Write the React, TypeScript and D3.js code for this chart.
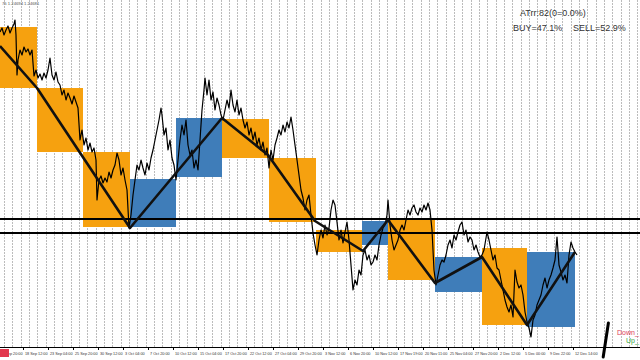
import React from "react";
import * as d3 from "d3";

const W = 640;
const H = 360;

// price (x10^4) sampled along H4 bars: [barIndex, price]
const priceSeries: [number, number][] = [
  [0,12909],[1,12917],[2,12903],[3,12913],[4,12921],[5,12907],[6,12917],[7,12925],[7.5,12933],[8,12903],[8.5,12823],[9,12853],
  [10,12873],[11,12863],[12,12879],[13,12869],[14,12875],[15,12863],[16,12873],[17,12821],[18,12833],[19,12817],[20,12825],
  [21,12813],[22,12827],[23,12817],[24,12833],[25,12857],[26,12823],[27,12813],[28,12829],[29,12809],[30,12803],[31,12783],
  [32,12793],[33,12773],[34,12787],[35,12777],[36,12765],[37,12781],[38,12769],[39,12757],[40,12693],[41,12713],[42,12683],
  [43,12697],[44,12673],[45,12687],[46,12669],[47,12677],[48,12653],[48.5,12573],[49.5,12613],[50.5,12621],[51.5,12607],
  [52.5,12617],[53.5,12609],[54.5,12629],[55.5,12617],[56.5,12633],[57.5,12643],[58.5,12667],[59.5,12653],[60.5,12623],
  [61.5,12637],[62.5,12613],[63.5,12593],[64.5,12517],[65.5,12543],[66.5,12583],[67.5,12613],[68.5,12643],[69.5,12633],
  [70.5,12653],[71.5,12637],[72.5,12623],[73.5,12647],[74.5,12633],[75.5,12657],[76.5,12673],[77.5,12693],[78.5,12713],
  [79.5,12733],[80.5,12757],[81,12743],[82,12703],[83,12717],[84,12673],[85,12693],[86,12657],[87,12643],[88,12613],
  [89,12653],[90,12693],[91,12723],[92,12703],[93,12733],[94,12683],[95,12663],[96,12673],[97,12637],[98,12653],[99,12633],
  [100,12693],[101,12753],[102,12793],[102.5,12817],[103.5,12783],[104.5,12813],[105.5,12773],[106.5,12789],[107.5,12753],
  [108.5,12777],[109.5,12763],[110.5,12743],[111.5,12733],[112.5,12753],[113.5,12773],[114.5,12757],[115.5,12793],
  [116.5,12763],[117.5,12749],[118.5,12773],[119.5,12743],[120.5,12757],[121.5,12733],[122.5,12717],[123.5,12729],
  [124.5,12703],[125.5,12717],[126.5,12693],[127.5,12709],[128.5,12683],[129.5,12697],[130.5,12673],[131.5,12689],
  [132.5,12663],[133.5,12677],[134.5,12637],[135.5,12673],[136.5,12653],[137.5,12683],[138.5,12697],[139.5,12713],
  [140.5,12703],[141.5,12723],[142.5,12709],[143.5,12729],[144.5,12717],[145.5,12739],[146.5,12713],[147.5,12683],
  [148.5,12653],[149.5,12623],[150.5,12593],[151.5,12577],[152.5,12553],[153.5,12573],[154.5,12583],[155.5,12543],
  [156.5,12507],[157.5,12483],[158.5,12463],[159.5,12493],[160.5,12513],[161.5,12497],[162.5,12523],[163.5,12503],
  [164.5,12517],[165.5,12553],[166.5,12573],[167.5,12563],[168.5,12529],[169.5,12493],[170.5,12513],[171.5,12487],
  [172.5,12509],[173.5,12529],[174.5,12493],[175.5,12443],[176.5,12393],[177.5,12413],[178.5,12403],[179.5,12433],
  [180.5,12423],[181.5,12463],[182.5,12473],[183.5,12453],[184.5,12463],[185.5,12443],[186.5,12449],[187.5,12463],
  [188.5,12453],[189.5,12483],[190.5,12503],[191.5,12517],[192.5,12523],[193.5,12543],[194,12573],[195,12523],[196,12493],
  [197,12473],[198,12483],[199,12493],[200,12513],[201,12523],[202,12513],[203,12533],[204,12553],[205,12543],[206,12557],
  [207,12563],[208,12549],[209,12543],[210,12557],[211,12549],[212,12563],[213,12553],[214,12567],[215,12553],[216,12513],
  [217,12433],[218,12403],[219,12423],[220,12443],[221,12453],[222,12449],[223,12463],[224,12483],[225,12493],[226,12477],
  [227,12503],[228,12493],[229,12509],[230,12523],[231,12529],[232,12503],[233,12513],[234,12489],[235,12499],[236,12493],
  [237,12473],[238,12483],[239,12469],[240,12459],[241,12463],[242,12473],[243,12497],[243.5,12509],[244.5,12493],
  [245.5,12473],[246.5,12453],[247.5,12463],[248.5,12437],[249.5,12433],[250.5,12413],[251.5,12393],[252.5,12373],
  [253.5,12359],[254.5,12349],[255.5,12363],[256.5,12339],[257.5,12433],[258.5,12409],[259.5,12397],[260.5,12403],
  [261.5,12383],[262.5,12349],[263.5,12329],[264.5,12317],[265.5,12299],[266.5,12333],[267.5,12343],[268.5,12363],
  [269.5,12373],[270.5,12383],[271.5,12403],[272.5,12417],[273.5,12397],[274.5,12413],[275.5,12423],[276.5,12437],
  [277.5,12453],[278.5,12499],[279.5,12443],[280.5,12429],[281.5,12413],[282.5,12423],[283.5,12407],[284.5,12463],
  [285.5,12489],[286.5,12477],[287.5,12469],[288.5,12463]
];

// higher-timeframe candle bodies
const boxStart = [-8.5, 18.5, 41.5, 65, 88, 111, 134.5, 158, 181, 194, 217.5, 241, 263.5];
const boxEnd = [18.5, 41.5, 65, 88, 111, 134.5, 158, 181, 194, 217.5, 241, 263.5, 287.5];
const boxOpen = [12919, 12797, 12669, 12519, 12619, 12735, 12657, 12513, 12483, 12537, 12389, 12477, 12319];
const boxClose = [12797, 12669, 12519, 12615, 12737, 12657, 12529, 12469, 12531, 12413, 12459, 12323, 12469];

// zigzag swing line
const zigBar = [0, 18.5, 65, 111, 134, 157.5, 181.5, 194, 217.5, 241, 263.5, 287.5];
const zigPrice = [12881, 12797, 12517, 12737, 12663, 12531, 12471, 12533, 12407, 12459, 12323, 12469];

// horizontal levels
const levels = [12535, 12507];

const timeLabels = [
  "15 Sep 20:00", "18 Sep 12:00", "23 Sep 04:00", "25 Sep 20:00", "30 Sep 12:00", "3 Oct 04:00",
  "7 Oct 20:00", "10 Oct 12:00", "15 Oct 04:00", "17 Oct 20:00", "22 Oct 12:00", "27 Oct 04:00",
  "29 Oct 20:00", "3 Nov 12:00", "6 Nov 20:00", "10 Nov 12:00", "17 Nov 19:00", "20 Nov 11:00",
  "25 Nov 04:00", "27 Nov 20:00", "2 Dec 12:00", "5 Dec 00:00", "9 Dec 22:00", "12 Dec 14:00"
];

const atrText = "ATrr:82(0=0.0%)";
const buyText = "BUY=47.1%";
const sellText = "SELL=52.9%";

const PLOT_BOTTOM = 347;

export default function App() {
  const x = d3.scaleLinear().domain([0, 320]).range([0, W]);
  const y = d3.scaleLinear().domain([12277, 12973]).range([PLOT_BOTTOM + 1, 0]);

  const priceLine = d3.line<[number, number]>().x(d => x(d[0])).y(d => y(d[1]))(priceSeries) || "";
  const zz = zigBar.map((b, i) => [b, zigPrice[i]] as [number, number]);
  const zigLine = d3.line<[number, number]>().x(d => x(d[0])).y(d => y(d[1]))(zz) || "";

  const labelBars = timeLabels.map((_, i) => -1 + 12.5 * i);
  const gridBars = d3.range(2, 320, 12.5 / 3);

  const font = "'Liberation Sans', Arial, sans-serif";

  return (
    <div style={{ position: "absolute", left: 0, top: 0, width: W, height: H, background: "#fff" }}>
      <svg width={W} height={H} style={{ display: "block" }}>
        <defs>
          <clipPath id="plot">
            <rect x={0} y={0} width={W} height={PLOT_BOTTOM} />
          </clipPath>
        </defs>
        <rect x={0} y={0} width={W} height={H} fill="#fff" />
        {/* vertical grid */}
        {gridBars.map((b, i) => (
          <line key={"g" + i} x1={Math.round(x(b)) + 0.5} x2={Math.round(x(b)) + 0.5} y1={0} y2={PLOT_BOTTOM}
            stroke="#bcbcbc" strokeWidth={1} strokeDasharray="2 1" />
        ))}
        <g clipPath="url(#plot)">
          {boxStart.map((b, i) => {
            const up = boxClose[i] > boxOpen[i];
            const top = y(Math.max(boxOpen[i], boxClose[i]));
            const bot = y(Math.min(boxOpen[i], boxClose[i]));
            return (
              <rect key={"b" + i} x={x(b)} y={top} width={x(boxEnd[i]) - x(b)} height={bot - top}
                fill={up ? "#3F7DB9" : "#F6A10F"} />
            );
          })}
          <path d={priceLine} fill="none" stroke="#000" strokeWidth={1.2} strokeLinejoin="round" />
          {levels.map((l, i) => (
            <line key={"l" + i} x1={0} x2={W} y1={y(l)} y2={y(l)} stroke="#000" strokeWidth={2} />
          ))}
          <path d={zigLine} fill="none" stroke="#111" strokeWidth={2.6} strokeLinejoin="round" />
        </g>
        {/* axis */}
        <line x1={0} x2={W} y1={PLOT_BOTTOM + 0.5} y2={PLOT_BOTTOM + 0.5} stroke="#000" strokeWidth={1} />
        {labelBars.map((b, i) => (
          <g key={"t" + i}>
            <line x1={Math.round(x(b)) + 0.5} x2={Math.round(x(b)) + 0.5} y1={PLOT_BOTTOM} y2={PLOT_BOTTOM + 3} stroke="#000" />
            <text x={x(b) + 2} y={PLOT_BOTTOM + 8} fontSize={3.8} fontFamily={font} fill="#333">{timeLabels[i]}</text>
          </g>
        ))}
        <rect x={0} y={PLOT_BOTTOM + 2} width={9} height={8} fill="#E2384E" />
        {/* top-left info */}
        <text x={2} y={5} fontSize={4.2} fontFamily={font} fill="#555">75 1.24694 1.24681</text>
        {/* top-right info */}
        <text x={520} y={15.5} fontSize={9} fontFamily={font} fill="#333">{atrText}</text>
        <text x={513} y={31} fontSize={9} fontFamily={font} fill="#333">{buyText}</text>
        <text x={573} y={31} fontSize={9} fontFamily={font} fill="#333">{sellText}</text>
        {/* bottom-right legend */}
        <text x={617} y={335} fontSize={7} fontFamily={font} fill="#E0405A">Down_</text>
        <text x={626} y={343} fontSize={7} fontFamily={font} fill="#3AA845">Up_</text>
        <line x1={x(304.2)} y1={y(12327)} x2={x(301.6)} y2={y(12259)} stroke="#000" strokeWidth={3} strokeLinecap="round" />
      </svg>
    </div>
  );
}
